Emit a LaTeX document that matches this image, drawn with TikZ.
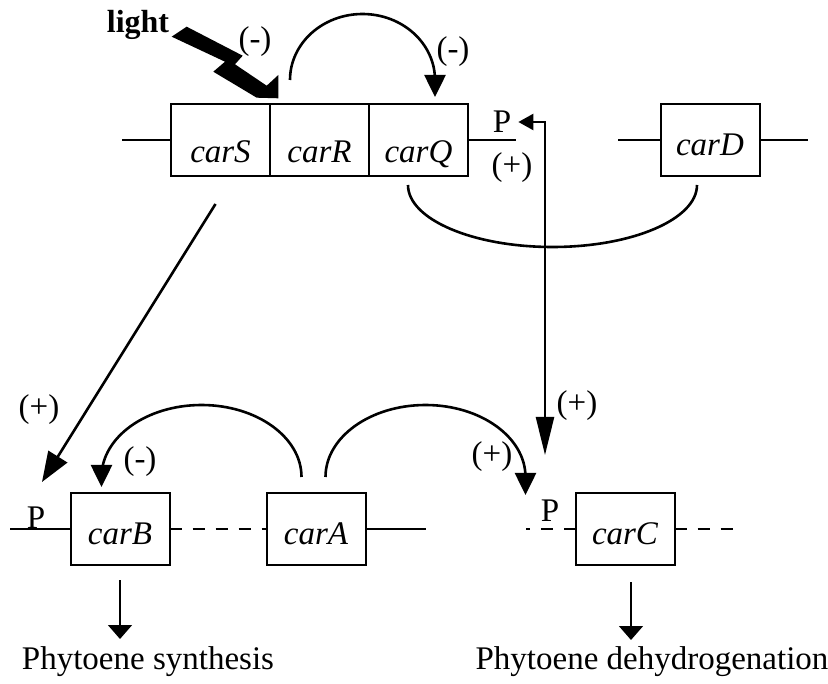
\documentclass[tikz,border=0pt]{standalone}
\usepackage{fontspec}
\setmainfont{Liberation Serif}
\usetikzlibrary{arrows.meta,positioning}

\begin{document}
\begin{tikzpicture}[
  x=1pt, y=-1pt,
  font=\fontsize{33}{38}\selectfont,
  gene/.style={draw, line width=2pt, minimum width=99pt, minimum height=72pt,
               inner sep=0pt, outer sep=0pt, font=\fontsize{33}{38}\selectfont\itshape,
               text height=31pt, text depth=0pt},
  low/.style={text height=46pt},
  wire/.style={line width=2.2pt},
  gap/.style={line width=2.2pt, dash pattern=on 12pt off 11pt},
  arr/.style={-{Triangle[length=22pt,width=21pt]}, line width=2.6pt},
  prod/.style={-{Triangle[length=14pt,width=24pt]}, line width=1.6pt},
  sign/.style={inner sep=0pt},
]
  \useasboundingbox (0,0) rectangle (828,684);

  % top operon
  \node[gene, low] (carS) at (220.5,140) {carS};
  \node[gene, low, right=0pt of carS] (carR) {carR};
  \node[gene, low, right=0pt of carR] (carQ) {carQ};
  \node[gene] (carD) at (710,140) {carD};
  \draw[wire] (carS.west) -- ++(-49,0);
  \draw[wire] (carQ.east) -- ++(48,0);
  \draw[wire] (carD.west) -- ++(-43,0);
  \draw[wire] (carD.east) -- ++(48,0);
  \node[sign] (pQ) at (502,122) {P};

  % bottom genes
  \node[gene] (carB) at (120,529) {carB};
  \node[gene, right=97pt of carB] (carA) {carA};
  \node[gene] (carC) at (625,529) {carC};
  \draw[wire] (carB.west) -- ++(-61,0);
  \draw[gap] (carB.east) -- (carA.west);
  \draw[wire] (carA.east) -- ++(60,0);
  \draw[gap] (carC.west) -- ++(-50,0);
  \draw[gap] (carC.east) -- ++(58,0);
  \node[sign, above] (pB) at (36,529) {P};
  \node[sign, above] (pC) at (550,522) {P};

  % light
  \node[font=\fontsize{32}{38}\selectfont\bfseries] (light) at (138,25) {light};
  \fill (171.7,36.7) -- (186.7,26.7) -- (242.7,55.7) -- (235,64.3) -- (266.7,85.7)
    -- (278.3,75) -- (278.3,98.3) -- (256.7,97.7) -- (213.3,71.7) -- (225,61.7) -- cycle;

  % regulation
  \coordinate (rQ) at ([shift={(20,-24)}]carR.north west);
  \draw[arr] (rQ) arc[start angle=180, end angle=0, x radius=72.5pt, y radius=66pt] -- ++(0,17);
  \coordinate (qD) at ([shift={(39,9)}]carQ.south west);
  \draw[wire, line width=2.6pt] (qD) arc[start angle=180, end angle=360, x radius=144.5pt, y radius=62pt];
  \coordinate (cP) at (545,455);
  \draw[line width=2.4pt, {Triangle[length=15pt,width=16pt]}-{Triangle[length=38pt,width=18pt]}]
    ([xshift=7pt]pQ.east) -| (cP);
  \coordinate (sB) at ([shift={(-5,28)}]carS.south);
  \draw[line width=2.6pt, -{Triangle[length=30pt,width=22pt]}] (sB) -- ([shift={(6,-47)}]pB.south);
  \coordinate (aB) at ([shift={(35,-16)}]carA.north west);
  \draw[arr] (aB) arc[start angle=0, end angle=180, x radius=100pt, y radius=72pt] -- ++(0,10);
  \coordinate (aC) at ([shift={(59,-16)}]carA.north west);
  \draw[arr] (aC) arc[start angle=180, end angle=0, x radius=100pt, y radius=72pt] -- ++(0,18);

  \node[sign] (m1) at (255,42) {(-)};
  \node[sign] (m2) at (453,52) {(-)};
  \node[sign] (p1) at (512,168) {(+)};
  \node[sign] (p2) at (577,406) {(+)};
  \node[sign] (p3) at (492,457) {(+)};
  \node[sign] (m3) at (140,462) {(-)};
  \node[sign] (p4) at (39,410) {(+)};

  % products
  \draw[prod] ([yshift=-15pt]carB.south) -- ++(0,59);
  \draw[prod] ([shift={(6,17)}]carC.south) -- ++(0,58);
  \node (synth) at (148,662) {Phytoene synthesis};
  \node (dehyd) at (652,662) {Phytoene dehydrogenation};
\end{tikzpicture}
\end{document}
